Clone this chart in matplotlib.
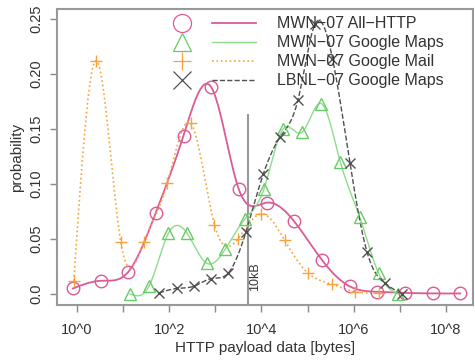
import numpy as np
import matplotlib
matplotlib.use("Agg")
import matplotlib.pyplot as plt
from matplotlib.lines import Line2D
from matplotlib.legend_handler import HandlerTuple

plt.rcParams['font.family'] = ['Liberation Sans', 'DejaVu Sans']

# log10(bytes) positions and probabilities
all_x = [-0.09, 0.51, 1.11, 1.71, 2.31, 2.91, 3.51, 4.11, 4.71, 5.31, 5.91, 6.51, 7.11, 7.71, 8.31]
all_p = [0.005, 0.012, 0.020, 0.074, 0.144, 0.188, 0.095, 0.083, 0.066, 0.031, 0.007, 0.002, 0.001, 0.0005, 0.0005]

maps_x = [1.15, 1.56, 1.98, 2.39, 2.81, 3.22, 3.64, 4.05, 4.47, 4.88, 5.30, 5.71, 6.13, 6.54, 6.96]
maps_p = [0.0, 0.007, 0.055, 0.055, 0.028, 0.041, 0.068, 0.095, 0.150, 0.147, 0.173, 0.120, 0.070, 0.019, 0.0]

mail_x = [-0.07, 0.41, 0.95, 1.45, 1.96, 2.47, 2.98, 3.49, 4.00, 4.50, 5.01, 5.52, 6.03, 6.54]
mail_p = [0.012, 0.212, 0.047, 0.047, 0.101, 0.155, 0.063, 0.050, 0.073, 0.049, 0.019, 0.009, 0.002, 0.001]

lbnl_x = [1.78, 2.16, 2.53, 2.91, 3.28, 3.66, 4.04, 4.41, 4.79, 5.16, 5.54, 5.92, 6.29, 6.67, 7.04]
lbnl_p = [0.001, 0.005, 0.007, 0.014, 0.019, 0.056, 0.109, 0.143, 0.176, 0.245, 0.214, 0.119, 0.038, 0.010, 0.0]

labels = ["MWN\u221207 All\u2212HTTP", "MWN\u221207 Google Maps",
          "MWN\u221207 Google Mail", "LBNL\u221207 Google Maps"]
cutoff_log = 3.7
cutoff_top = 0.163


def spline(xs, ys, n=400):
    # natural cubic spline through the points, for drawing the smooth line
    xs = np.asarray(xs, float)
    ys = np.asarray(ys, float)
    k = len(xs)
    h = np.diff(xs)
    A = np.zeros((k, k))
    r = np.zeros(k)
    A[0, 0] = A[-1, -1] = 1
    for i in range(1, k - 1):
        A[i, i - 1] = h[i - 1]
        A[i, i] = 2 * (h[i - 1] + h[i])
        A[i, i + 1] = h[i]
        r[i] = 6 * ((ys[i + 1] - ys[i]) / h[i] - (ys[i] - ys[i - 1]) / h[i - 1])
    M = np.linalg.solve(A, r)
    xx = np.linspace(xs[0], xs[-1], n)
    j = np.clip(np.searchsorted(xs, xx) - 1, 0, k - 2)
    t0 = xs[j + 1] - xx
    t1 = xx - xs[j]
    hj = h[j]
    yy = (M[j] * t0 ** 3 + M[j + 1] * t1 ** 3) / (6 * hj) \
        + (ys[j] / hj - M[j] * hj / 6) * t0 + (ys[j + 1] / hj - M[j + 1] * hj / 6) * t1
    return 10 ** xx, yy


fig = plt.figure(figsize=(4.75, 3.6), dpi=100)
ax = fig.add_axes([0.12, 0.1528, 0.876, 0.8222])

pink = "#dc5a95"
green = "#8ddc8d"
orange = "#f7a23a"
grey = "#505050"

series = [
    (all_x, all_p, pink, "-", 1.3, "o", pink, 9),
    (maps_x, maps_p, green, "-", 1.0, "^", "#66cc66", 8.5),
    (mail_x, mail_p, orange, ":", 1.2, "+", orange, 9),
    (lbnl_x, lbnl_p, grey, "--", 1.0, "x", grey, 7),
]

handles = []
for xs, ps, col, ls, lw, mk, mcol, ms in series:
    sx, sy = spline(xs, ps)
    ax.plot(sx, sy, color=col, ls=ls, lw=lw, zorder=2)
    ax.plot(10 ** np.array(xs), ps, ls="none", marker=mk, ms=ms, mfc="none",
            mec=mcol, mew=1.0, zorder=3)
    hm = Line2D([], [], ls="none", marker=mk, ms=13, mfc="none", mec=mcol, mew=0.9)
    hl = Line2D([], [], color=col, ls=ls, lw=lw)
    handles.append((hm, hl))

ax.plot([10 ** cutoff_log, 10 ** cutoff_log], [-0.01, cutoff_top], color="#999999", lw=1.5, zorder=1)
ax.text(10 ** cutoff_log * 1.45, 0.003, "10kB", rotation=90, fontsize=9, color="#333333",
        ha="center", va="bottom")

ax.set_xscale("log")
ax.set_xlim(10 ** -0.434, 10 ** 8.59)
ax.set_ylim(-0.01, 0.259)

ax.set_xticks([10.0 ** e for e in range(0, 9)])
ax.set_xticklabels(["10^%d" % e if e % 2 == 0 else "" for e in range(0, 9)])
ax.xaxis.set_minor_locator(matplotlib.ticker.NullLocator())
ax.set_yticks([0.0, 0.05, 0.10, 0.15, 0.20, 0.25])
ax.set_yticklabels(["0.0", "0.05", "0.10", "0.15", "0.20", "0.25"])

ax.tick_params(axis="x", direction="out", length=5, width=1, color="#888888",
               labelsize=10.5, labelcolor="#333333", pad=8)
ax.tick_params(axis="y", direction="out", length=5, width=1, color="#888888",
               labelsize=10.5, labelcolor="#333333", pad=5, labelrotation=90)
for lab in ax.get_yticklabels():
    lab.set_va("center")

for s in ax.spines.values():
    s.set_color("#999999")
    s.set_linewidth(1.5)

ax.set_xlabel("HTTP payload data [bytes]", fontsize=11, color="#333333", labelpad=3)
ax.set_ylabel("probability", fontsize=11, color="#333333", labelpad=4)

ax.legend(handles, labels, handler_map={tuple: HandlerTuple(ndivide=None, pad=0.5)},
          loc="upper left", bbox_to_anchor=(0.2476, 0.975), borderaxespad=0, borderpad=0,
          frameon=False, fontsize=11.5, handlelength=6.0, handletextpad=1.3,
          labelspacing=0.25, labelcolor="#333333")

fig.savefig("out.png", dpi=100)
